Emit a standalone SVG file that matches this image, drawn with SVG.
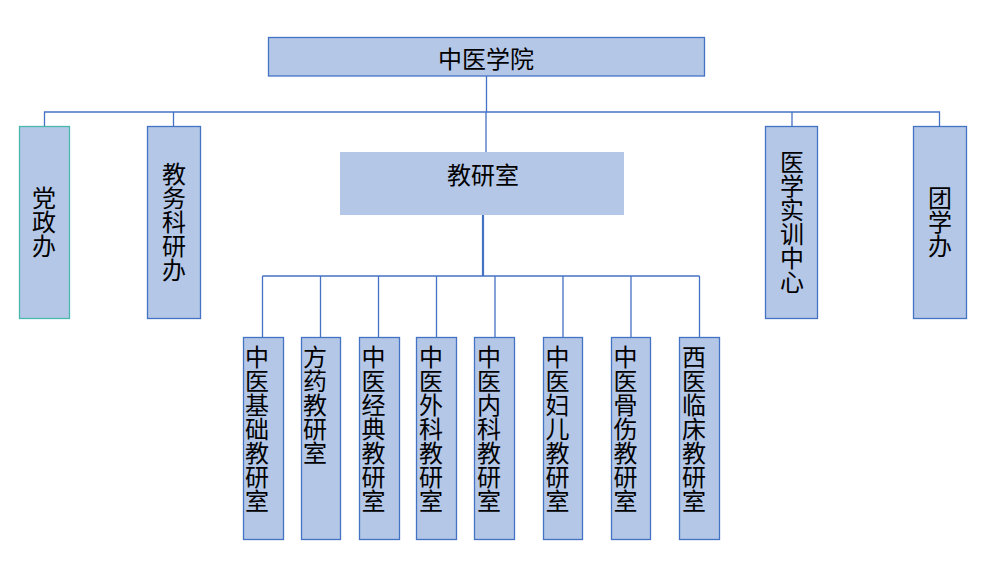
<svg xmlns="http://www.w3.org/2000/svg" width="1000" height="570" viewBox="0 0 1000 570">
<style>
.box{fill:#B4C7E7;stroke:#4472C4;stroke-width:1.3}
.t{font-family:"Noto Sans CJK SC","Microsoft YaHei",sans-serif;font-size:24px;fill:#000;text-anchor:middle;dominant-baseline:central}
.v{font-family:"Noto Sans CJK SC","Microsoft YaHei",sans-serif;font-size:24px;fill:#000;writing-mode:vertical-rl;text-orientation:upright}
.m{text-anchor:middle}
.s{text-anchor:start}
.c{fill:none;stroke:#4472C4;stroke-width:1.3}
</style>
<rect width="1000" height="570" fill="#fff"/>
<g id="connectors">
<path class="c" d="M486.5 76V112M44.5 126V112H939.5V126M173.5 112V126M486 112V152M792 112V126"/>
<path class="c" d="M483 215V276" style="stroke-width:2.2"/>
<path class="c" d="M262.5 276H699.5M262.5 276V337M320.5 276V337M378.5 276V337M436.5 276V337M495 276V337M563 276V337M631 276V337M699.5 276V337"/>
</g>
<g id="n-root"><rect class="box" x="268.5" y="37.5" width="436" height="38.5"/><text class="t" x="486" y="57">中医学院</text></g>
<g id="n-dzb"><rect class="box" x="19.5" y="126.5" width="50" height="192" style="stroke:#4BB8B0"/><text class="v m" x="44" y="222">党政办</text></g>
<g id="n-jwky"><rect class="box" x="147.5" y="126.5" width="53" height="192"/><text class="v m" x="174" y="222">教务科研办</text></g>
<g id="n-jys"><rect x="340" y="152" width="284" height="63" fill="#B4C7E7"/><text class="t" x="483" y="173">教研室</text></g>
<g id="n-sxzx"><rect class="box" x="765.5" y="126.5" width="52" height="192"/><text class="v m" x="792" y="222">医学实训中心</text></g>
<g id="n-txb"><rect class="box" x="913.5" y="126.5" width="53" height="192"/><text class="v m" x="940" y="222">团学办</text></g>
<g id="n-b1"><rect class="box" x="243.5" y="337.5" width="40" height="202"/><text class="v s" x="257" y="345">中医基础教研室</text></g>
<g id="n-b2"><rect class="box" x="301.5" y="337.5" width="39" height="202"/><text class="v s" x="315" y="345">方药教研室</text></g>
<g id="n-b3"><rect class="box" x="359.5" y="337.5" width="40" height="202"/><text class="v s" x="373.5" y="345">中医经典教研室</text></g>
<g id="n-b4"><rect class="box" x="416.5" y="337.5" width="40" height="202"/><text class="v s" x="431" y="345">中医外科教研室</text></g>
<g id="n-b5"><rect class="box" x="474.5" y="337.5" width="40" height="202"/><text class="v s" x="489" y="345">中医内科教研室</text></g>
<g id="n-b6"><rect class="box" x="543.5" y="337.5" width="39" height="202"/><text class="v s" x="557.5" y="345">中医妇儿教研室</text></g>
<g id="n-b7"><rect class="box" x="611.5" y="337.5" width="39" height="202"/><text class="v s" x="625.5" y="345">中医骨伤教研室</text></g>
<g id="n-b8"><rect class="box" x="679.5" y="337.5" width="40" height="202"/><text class="v s" x="694" y="345">西医临床教研室</text></g>
</svg>
